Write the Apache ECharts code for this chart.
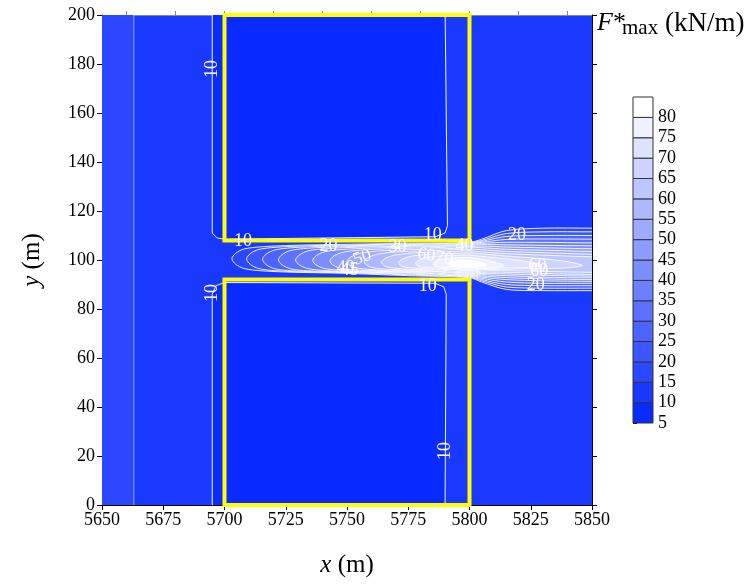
<!DOCTYPE html>
<html><head><meta charset="utf-8">
<script src="https://cdn.jsdelivr.net/npm/echarts@6/dist/echarts.min.js"></script>
<style>html,body{margin:0;padding:0;background:#fff}#c{width:749px;height:585px}</style>
</head><body><div id="c"></div>
<script>
// ---------- data ----------
const xRange = [5650, 5850];
const yRange = [0, 200];
const topTicks = [5660,5680,5700,5720,5740,5760,5780,5800,5820,5840];
const legendLevels = [5,10,15,20,25,30,35,40,45,50,55,60,65,70,75,80];
const bandColors = ['#0a2bff','#1a39ff','#2b47ff','#3b55ff','#4b64ff','#5c72ff','#6c80ff','#7c8eff',
                    '#8d9cff','#9daaff','#adb8ff','#bec6ff','#ced4ff','#dee3ff','#eff1ff','#ffffff'];
// buildings [x0, y0, x1, y1]
const buildings = [[5700,0,5800,92],[5700,108,5800,200]];
// contour regions (x in m, y in m)
const below10Upper = [[5695,206],[5695,111],[5697,109],[5700,108.5],[5786,109.5],[5790,111],[5791,114],[5790,206]];
const below10Lower = [[5695,-6],[5695,86],[5696.5,89.5],[5700,90.8],[5786,90.5],[5789.5,89],[5790.5,86],[5790,-6]];
const above15Left = [[5640,-6],[5663,-6],[5663,206],[5640,206]];
const jet15 = [[5703,100.5],[5704.5,102.7],[5708,104.5],[5715,105.4],[5728,106],[5748,106.4],[5775,106.8],[5800,107.2],[5805,108.5],[5815,112],[5830,113],[5850,113],[5880,113],[5880,87.5],[5850,87.5],[5830,87.5],[5815,88],[5805,91],[5800,92.8],[5775,93.6],[5748,94.6],[5728,95],[5715,95.6],[5708,96.5],[5704.5,98.3]];
const jet20 = [[5709,100.4],[5710.5,102.6],[5714,104.3],[5721,105.2],[5734,105.8],[5754,106.2],[5778,106.6],[5800,107],[5805,108],[5815,110.8],[5830,111.5],[5850,111.5],[5880,111.5],[5880,88.5],[5850,88.5],[5830,88.5],[5815,89],[5805,91.5],[5800,93],[5778,93.8],[5754,94.7],[5734,95.1],[5721,95.6],[5714,96.5],[5710.5,98.2]];
const jet25 = [[5715.5,100.3],[5717,102.4],[5720.5,104.1],[5727.5,105],[5740.5,105.6],[5760,106],[5782,106.4],[5800,106.8],[5805,107.6],[5815,109.6],[5830,110],[5850,110],[5880,110],[5880,89.5],[5850,89.5],[5830,89.5],[5815,90],[5805,92],[5800,93.2],[5782,94],[5760,94.7],[5740.5,95.1],[5727.5,95.6],[5720.5,96.4],[5717,98.1]];
const jet30 = [[5722,100.1],[5723.5,102.2],[5727,103.9],[5734,104.8],[5747,105.4],[5767,105.8],[5786,106.1],[5800,106.5],[5805,107.2],[5815,108.4],[5830,108.6],[5850,108.5],[5880,108.5],[5880,90.5],[5850,90.5],[5830,90.5],[5815,91],[5805,92.5],[5800,93.4],[5786,94.2],[5767,94.8],[5747,95.2],[5734,95.6],[5727,96.4],[5723.5,98]];
const jet35 = [[5729,100],[5730.5,102],[5734,103.7],[5741,104.6],[5754,105.2],[5774,105.6],[5790,105.9],[5800,106.2],[5805,106.8],[5815,107.2],[5830,107.2],[5850,107],[5880,107],[5880,91.3],[5850,91.3],[5830,91.5],[5815,92],[5805,93],[5800,93.6],[5790,94.3],[5774,94.9],[5754,95.3],[5741,95.7],[5734,96.5],[5730.5,98]];
const jet40 = [[5736,99.8],[5737.5,101.8],[5741,103.4],[5748,104.3],[5761,104.9],[5781,105.4],[5800,105.9],[5805,106.3],[5815,106.2],[5830,106],[5850,105.8],[5880,105.8],[5880,92],[5850,92],[5830,92.3],[5815,92.8],[5805,93.5],[5800,93.8],[5781,94.9],[5761,95.4],[5748,95.8],[5741,96.5],[5737.5,97.9]];
const jet45 = [[5743,99.6],[5744.5,101.5],[5748,103.1],[5755,104],[5768,104.6],[5788,105.1],[5800,105.5],[5805,105.7],[5815,105.3],[5830,105],[5850,104.6],[5880,104.6],[5880,92.7],[5850,92.7],[5830,93],[5815,93.6],[5805,94],[5800,94.1],[5788,95],[5768,95.5],[5755,95.9],[5748,96.5],[5744.5,97.8]];
const jet50 = [[5750,99.4],[5751.5,101.2],[5755,102.7],[5762,103.6],[5775,104.2],[5792,104.7],[5800,105],[5805,105],[5815,104.4],[5830,104],[5850,103.5],[5880,103.5],[5880,93.4],[5850,93.4],[5830,93.8],[5815,94.3],[5805,94.5],[5800,94.4],[5792,95.1],[5775,95.6],[5762,96],[5755,96.6],[5751.5,97.7]];
const jet55 = [[5757,99.2],[5758.5,100.9],[5762,102.3],[5769,103.2],[5782,103.8],[5800,104.4],[5805,104.2],[5815,103.5],[5830,103],[5850,102.4],[5880,102.4],[5880,94.1],[5850,94.1],[5830,94.5],[5815,95],[5805,95],[5800,94.7],[5782,95.7],[5769,96.1],[5762,96.6],[5758.5,97.6]];
const jet60 = [[5764,99],[5765.5,100.6],[5769,101.9],[5776,102.8],[5789,103.3],[5800,103.7],[5805,103.3],[5815,102.6],[5830,102],[5850,101.3],[5880,101.3],[5880,95],[5850,95],[5830,95.3],[5815,95.6],[5805,95.5],[5800,95],[5789,95.8],[5776,96.2],[5769,96.7],[5765.5,97.5]];
const jet65 = [[5771,98.8],[5772.5,100.3],[5776,101.5],[5783,102.3],[5794,102.7],[5800,102.9],[5805,102.5],[5815,101.6],[5830,100.5],[5840,99.3],[5846,97.8],[5840,96.8],[5830,96.5],[5815,96.2],[5805,96],[5800,95.4],[5794,96],[5783,96.4],[5776,96.8],[5772.5,97.4]];
const jet70 = [[5778,98.6],[5779.5,100],[5783,101.1],[5790,101.8],[5800,102],[5805,101.5],[5815,100.5],[5824,99.3],[5829,98],[5824,97],[5815,96.8],[5805,96.4],[5800,95.8],[5790,96.5],[5783,96.9],[5779.5,97.3]];
const jet75 = [[5785,98.4],[5786.5,99.6],[5790,100.5],[5797,101],[5800,101],[5806,100.2],[5811,98.9],[5814,97.8],[5811,97],[5806,96.8],[5800,96.2],[5793,96.7],[5786.5,97.3]];
const jet80 = [[5791,98.2],[5792.5,99.2],[5796,99.8],[5800,99.8],[5804,99.2],[5807,98],[5804,97.2],[5800,96.8],[5796,97],[5792.5,97.4]];
// contour labels: [x, y, text, rotation in degrees]
const contourLabels = [
  [5695,178,'10',90],[5695,86.5,'10',90],[5790,22,'10',90],
  [5707.5,107.5,'10',0],[5785,110.2,'10',0],[5783,89.4,'10',0],
  [5742.4,105.7,'20',0],[5770.6,105.1,'30',0],[5798,105.7,'40',0],
  [5756.3,101,'50',20],[5782.4,102,'60',-10],[5789.6,100.6,'70',-10],
  [5749.5,96.8,'40',0],[5751,95.8,'45',0],
  [5819.4,110.2,'20',0],[5827,89.8,'20',0],[5827.8,97.6,'60',0],[5828.5,95.6,'60',0]
];

// ---------- build ----------
const regions = [
  {level:5, pts:below10Upper, smooth:0, alpha:0.95},
  {level:5, pts:below10Lower, smooth:0, alpha:0.95},
  {level:15, pts:above15Left, smooth:0, alpha:0.55},
  {level:15, pts:jet15, smooth:0.3, alpha:0.9},
  {level:20, pts:jet20, smooth:0.3, alpha:0.9},
  {level:25, pts:jet25, smooth:0.3, alpha:0.9},
  {level:30, pts:jet30, smooth:0.3, alpha:0.9},
  {level:35, pts:jet35, smooth:0.3, alpha:0.9},
  {level:40, pts:jet40, smooth:0.3, alpha:0.9},
  {level:45, pts:jet45, smooth:0.3, alpha:0.9},
  {level:50, pts:jet50, smooth:0.3, alpha:0.9},
  {level:55, pts:jet55, smooth:0.3, alpha:0.9},
  {level:60, pts:jet60, smooth:0.3, alpha:0.9},
  {level:65, pts:jet65, smooth:0.3, alpha:0.9},
  {level:70, pts:jet70, smooth:0.3, alpha:0.9},
  {level:75, pts:jet75, smooth:0.3, alpha:0.9},
  {level:80, pts:jet80, smooth:0.3, alpha:0.9}
];
const colorOf = L => bandColors[legendLevels.indexOf(L)];
const FONT = '"Liberation Serif","Times New Roman",serif';

function clipRect(params){
  const c = params.coordSys;
  return {type:'rect', shape:{x:c.x, y:c.y, width:c.width, height:c.height}};
}

const chart = echarts.init(document.getElementById('c'), null, {renderer:'canvas'});
const axisBlack = {show:true, onZero:false, lineStyle:{color:'#000', width:1}};
chart.setOption({
  animation:false,
  backgroundColor:'#fff',
  grid:[
    {left:102, top:15, width:490, height:490, show:true, backgroundColor:colorOf(10), borderWidth:0},
    {left:633, top:97, width:20, height:326}
  ],
  xAxis:[
    {gridIndex:0, type:'value', min:xRange[0], max:xRange[1], interval:25, position:'bottom',
     axisLine:axisBlack, axisTick:{show:true, length:5, lineStyle:{color:'#000'}},
     axisLabel:{fontFamily:FONT, fontSize:18, color:'#000', margin:6, formatter:v => String(v)},
     splitLine:{show:false},
     name:'{i|x} (m)', nameLocation:'middle', nameGap:48,
     nameTextStyle:{fontFamily:FONT, fontSize:25, color:'#000',
       rich:{i:{fontFamily:FONT, fontSize:25, fontStyle:'italic', color:'#000'}}}},
    {gridIndex:0, type:'value', min:xRange[0], max:xRange[1], position:'top',
     axisLine:{show:true, onZero:false, lineStyle:{color:'#888', width:1}},
     axisTick:{show:true, length:4, customValues:topTicks, lineStyle:{color:'#888'}},
     axisLabel:{show:false}, splitLine:{show:false}},
    {gridIndex:1, type:'value', min:0, max:1, show:false}
  ],
  yAxis:[
    {gridIndex:0, type:'value', min:yRange[0], max:yRange[1], interval:20, position:'left',
     axisLine:axisBlack, axisTick:{show:true, length:5, lineStyle:{color:'#000'}},
     axisLabel:{fontFamily:FONT, fontSize:18, color:'#000', margin:7},
     splitLine:{show:false},
     name:'{i|y} (m)', nameLocation:'middle', nameGap:57, nameRotate:90,
     nameTextStyle:{fontFamily:FONT, fontSize:25, color:'#000',
       rich:{i:{fontFamily:FONT, fontSize:25, fontStyle:'italic', color:'#000'}}}},
    {gridIndex:0, type:'value', min:yRange[0], max:yRange[1], interval:20, position:'right',
     axisLine:axisBlack, axisTick:{show:true, length:5, lineStyle:{color:'#000'}},
     axisLabel:{show:false}, splitLine:{show:false}},
    {gridIndex:1, type:'value', min:5, max:85, interval:5, position:'right',
     axisLine:{show:false}, axisTick:{show:true, length:4, lineStyle:{color:'#000'}},
     axisLabel:{fontFamily:FONT, fontSize:18, color:'#000', margin:5,
       formatter:v => v >= 85 ? '' : String(v)},
     splitLine:{show:false}}
  ],
  graphic:[
    {type:'text', left:597, top:10, style:{text:'F', font:'italic 26px ' + FONT, fill:'#000'}},
    {type:'text', left:613, top:10, style:{text:'*', font:'26px ' + FONT, fill:'#000'}},
    {type:'text', left:622, top:18, style:{text:'max', font:'21px ' + FONT, fill:'#000'}},
    {type:'text', left:665, top:10, style:{text:'(kN/m)', font:'27px ' + FONT, fill:'#000'}}
  ],
  series:[
    {type:'custom', xAxisIndex:0, yAxisIndex:0, z:2,
     data: regions.map((r,i) => [r.pts[0][0], r.pts[0][1], i]),
     encode:{x:0, y:1},
     renderItem:(params, api) => {
       const r = regions[api.value(2)];
       const pts = r.pts.map(p => api.coord(p));
       return {type:'polygon', shape:{points:pts, smooth:r.smooth},
         style:{fill:colorOf(r.level), stroke:'rgba(255,255,255,' + r.alpha + ')', lineWidth:1},
         clipPath:clipRect(params)};
     }},
    {type:'custom', xAxisIndex:0, yAxisIndex:0, z:3,
     data: buildings.map(b => [b[0], b[1], b[2], b[3]]),
     encode:{x:[0,2], y:[1,3]},
     renderItem:(params, api) => {
       const p0 = api.coord([api.value(0), api.value(3)]);
       const p1 = api.coord([api.value(2), api.value(1)]);
       return {type:'rect', shape:{x:p0[0], y:p0[1], width:p1[0]-p0[0], height:p1[1]-p0[1]},
         style:{fill:'none', stroke:'#ffff00', lineWidth:4}};
     }},
    {type:'custom', xAxisIndex:0, yAxisIndex:0, z:4,
     data: contourLabels.map((l,i) => [l[0], l[1], i]),
     encode:{x:0, y:1},
     renderItem:(params, api) => {
       const l = contourLabels[api.value(2)];
       const p = api.coord([l[0], l[1]]);
       return {type:'text', x:p[0], y:p[1], rotation:l[3]*Math.PI/180,
         style:{text:l[2], fill:'#fff', font:'18px ' + FONT, align:'center', verticalAlign:'middle'}};
     }},
    {type:'custom', xAxisIndex:2, yAxisIndex:2, z:2,
     data: legendLevels.map((L,i) => [0.5, L, i]),
     encode:{x:0, y:1},
     renderItem:(params, api) => {
       const L = api.value(1);
       const p0 = api.coord([0, L + 5]);
       const p1 = api.coord([1, L]);
       return {type:'rect', shape:{x:p0[0], y:p0[1], width:p1[0]-p0[0], height:p1[1]-p0[1]},
         style:{fill:bandColors[api.value(2)], stroke:'#333', lineWidth:1}};
     }}
  ]
});
</script></body></html>
